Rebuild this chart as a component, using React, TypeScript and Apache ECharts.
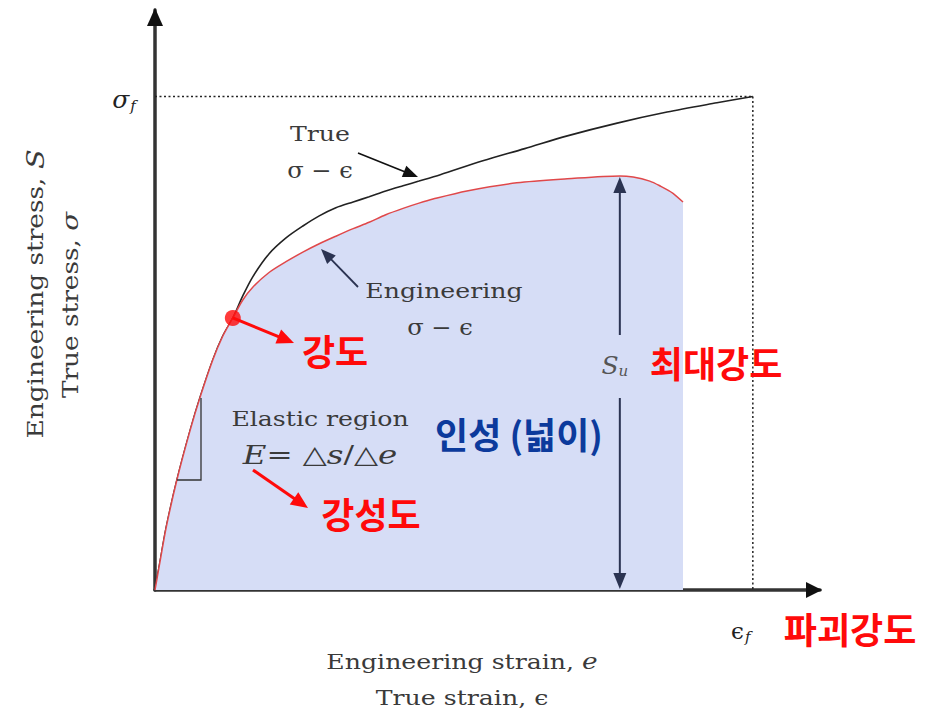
import React, { useEffect, useRef } from "react";
import * as echarts from "echarts";

// Normalised strain / stress scale of the schematic
const strainMax = 1.0;
const stressMax = 1.0;

// True stress-strain curve (sigma vs epsilon)
const trueStrain = [0, 0.008, 0.017, 0.033, 0.053, 0.068, 0.087, 0.102, 0.117, 0.132, 0.147, 0.171, 0.197, 0.223, 0.247, 0.272, 0.298, 0.322, 0.347, 0.373, 0.397, 0.429, 0.493, 0.556, 0.62, 0.695, 0.77, 0.845, 0.899];
const trueStress = [0, 0.052, 0.109, 0.19, 0.276, 0.333, 0.397, 0.438, 0.469, 0.507, 0.54, 0.579, 0.607, 0.628, 0.645, 0.659, 0.669, 0.678, 0.688, 0.697, 0.705, 0.716, 0.74, 0.761, 0.783, 0.805, 0.824, 0.84, 0.851];

// Engineering stress-strain curve (S vs e)
const engStrain = [0, 0.008, 0.017, 0.033, 0.053, 0.068, 0.087, 0.102, 0.117, 0.132, 0.147, 0.171, 0.197, 0.223, 0.247, 0.272, 0.298, 0.322, 0.347, 0.373, 0.397, 0.418, 0.469, 0.544, 0.62, 0.699, 0.719, 0.744, 0.759, 0.779, 0.794];
const engStress = [0, 0.052, 0.109, 0.19, 0.276, 0.333, 0.397, 0.438, 0.469, 0.5, 0.522, 0.547, 0.566, 0.583, 0.597, 0.61, 0.623, 0.634, 0.647, 0.658, 0.667, 0.674, 0.688, 0.702, 0.709, 0.714, 0.712, 0.705, 0.697, 0.684, 0.669];

// Key points: yield, ultimate strength and fracture
const yieldPoint = [0.117, 0.469];
const ultimatePoint = [0.699, 0.714];
const fracturePoint = [0.899, 0.851];

const SERIF = "'DejaVu Serif', 'Liberation Serif', serif";
const KR = "'Noto Sans CJK KR', 'Noto Sans', sans-serif";
const RED = "#ff0a0a";
const NAVY = "#2b3352";
const INK = "#3a3a3a";
const WIDE = 1.2;

function arrow(x1: number, y1: number, x2: number, y2: number, color: string, width: number, headLen: number, headW: number) {
  const dx = x2 - x1;
  const dy = y2 - y1;
  const len = Math.sqrt(dx * dx + dy * dy);
  const ux = dx / len;
  const uy = dy / len;
  const bx = x2 - ux * headLen;
  const by = y2 - uy * headLen;
  const px = -uy * (headW / 2);
  const py = ux * (headW / 2);
  return [
    {
      type: "line",
      silent: true,
      shape: { x1, y1, x2: x2 - ux * headLen * 0.6, y2: y2 - uy * headLen * 0.6 },
      style: { stroke: color, lineWidth: width },
      z: 20,
    },
    {
      type: "polygon",
      silent: true,
      shape: { points: [[x2, y2], [bx + px, by + py], [bx - px, by - py]] },
      style: { fill: color },
      z: 21,
    },
  ];
}

function text(x: number, y: number, str: string, font: any, extra: any = {}) {
  return {
    type: "text",
    x,
    y,
    z: 30,
    silent: true,
    ...extra,
    style: {
      text: str,
      align: "center",
      verticalAlign: "middle",
      ...font,
    },
  };
}

export default function App() {
  const ref = useRef<HTMLDivElement>(null);

  useEffect(() => {
    if (!ref.current) return;
    const chart = echarts.init(ref.current, null, { renderer: "svg" });

    const trueData = trueStrain.map((x, i) => [x, trueStress[i]]);
    const engData = engStrain.map((x, i) => [x, engStress[i]]);

    chart.setOption({
      animation: false,
      backgroundColor: "#ffffff",
      grid: { left: 155, right: 106, top: 10, bottom: 120 },
      xAxis: {
        type: "value",
        min: 0,
        max: strainMax,
        axisLine: { show: true, lineStyle: { color: "#333", width: 3.5 } },
        axisTick: { show: false },
        axisLabel: { show: false },
        splitLine: { show: false },
      },
      yAxis: {
        type: "value",
        min: 0,
        max: stressMax,
        axisLine: { show: true, lineStyle: { color: "#333", width: 3.5 } },
        axisTick: { show: false },
        axisLabel: { show: false },
        splitLine: { show: false },
      },
      series: [
        {
          type: "line",
          data: trueData,
          smooth: 0.3,
          showSymbol: false,
          lineStyle: { color: "#222", width: 1.6 },
          z: 2,
        },
        {
          type: "line",
          data: engData,
          smooth: 0.3,
          showSymbol: false,
          lineStyle: { color: "#e0484a", width: 1.5 },
          areaStyle: { color: "#d6ddf6", opacity: 1 },
          z: 3,
        },
        {
          type: "scatter",
          data: [yieldPoint],
          symbolSize: 16,
          itemStyle: { color: RED },
          z: 10,
        },
      ],
    });

    const P = (pt: number[]) => chart.convertToPixel({ gridIndex: 0 }, pt) as number[];
    const o = P([0, 0]);
    const xEnd = P([strainMax, 0]);
    const yEnd = P([0, stressMax]);
    const fr = P(fracturePoint);
    const yp = P(yieldPoint);
    const ul = P(ultimatePoint);

    const g: any[] = [];

    // axis arrow heads
    g.push({ type: "polygon", silent: true, z: 25, shape: { points: [[xEnd[0] + 2, o[1]], [xEnd[0] - 14, o[1] - 8], [xEnd[0] - 14, o[1] + 8]] }, style: { fill: "#111" } });
    g.push({ type: "polygon", silent: true, z: 25, shape: { points: [[o[0], yEnd[1] - 2], [o[0] - 8, yEnd[1] + 16], [o[0] + 8, yEnd[1] + 16]] }, style: { fill: "#111" } });

    // dotted guides to the fracture point
    g.push({ type: "line", silent: true, z: 5, shape: { x1: o[0], y1: fr[1], x2: fr[0], y2: fr[1] }, style: { stroke: "#222", lineWidth: 1.5, lineDash: [2, 2.5] } });
    g.push({ type: "line", silent: true, z: 5, shape: { x1: fr[0], y1: fr[1], x2: fr[0], y2: o[1] }, style: { stroke: "#222", lineWidth: 1.5, lineDash: [2, 2.5] } });

    // ultimate strength double arrow with gap for the label
    const suX = ul[0];
    const suMid = 365;
    g.push(...arrow(suX, suMid - 30, suX, ul[1] + 1, NAVY, 2, 16, 13));
    g.push(...arrow(suX, suMid + 33, suX, o[1] - 1, NAVY, 2, 16, 13));

    // elastic slope triangle
    g.push({ type: "polyline", silent: true, z: 6, shape: { points: [[201, 398], [201, 480], [177, 480]] }, style: { stroke: "#333", lineWidth: 1.3, fill: null } });

    // pointers
    g.push(...arrow(358, 153, 418, 177, "#111", 1.6, 15, 12));
    g.push(...arrow(358, 287, 321, 249, NAVY, 1.8, 15, 12));
    g.push(...arrow(yp[0], yp[1], 294, 343, RED, 3, 17, 15));
    g.push(...arrow(253, 470, 308, 508, RED, 3, 17, 15));

    // serif annotations
    const serif = { fontFamily: SERIF, fontSize: 21, fill: INK };
    const wide = { scaleX: WIDE };
    g.push(text(o[0] - 31, fr[1] + 3, "{s|σ}{sub|f}", {
      fontFamily: SERIF,
      fill: "#222",
      rich: {
        s: { fontFamily: SERIF, fontSize: 25, fontStyle: "italic", fill: "#222", verticalAlign: "middle" },
        sub: { fontFamily: SERIF, fontSize: 15, fontStyle: "italic", fill: "#222", padding: [14, 0, 0, 1] },
      },
    }));
    g.push(text(320, 133, "True", serif, wide));
    g.push(text(320, 170, "σ − ϵ", { ...serif, fontSize: 22 }, { scaleX: 1.1 }));
    g.push(text(444, 290, "Engineering", serif, wide));
    g.push(text(440, 327, "σ − ϵ", { ...serif, fontSize: 22 }, { scaleX: 1.1 }));
    g.push(text(320, 418, "Elastic region", serif, wide));
    g.push(text(320, 455, "{i|E}= △{i|s}/△{i|e}", {
      fontFamily: SERIF,
      fontSize: 25,
      fill: INK,
      rich: { i: { fontFamily: SERIF, fontSize: 26, fontStyle: "italic", fill: INK } },
    }, { scaleX: 1.25 }));
    g.push(text(suX - 5, suMid, "{s|S}{sub|u}", {
      fontFamily: SERIF,
      fill: "#555",
      rich: {
        s: { fontFamily: SERIF, fontSize: 25, fontStyle: "italic", fill: "#555" },
        sub: { fontFamily: SERIF, fontSize: 15, fontStyle: "italic", fill: "#555", padding: [12, 0, 0, 0] },
      },
    }));
    g.push(text(fr[0] - 12, 631, "{s|ϵ}{sub|f}", {
      fontFamily: SERIF,
      fill: "#222",
      rich: {
        s: { fontFamily: SERIF, fontSize: 23, fill: "#222" },
        sub: { fontFamily: SERIF, fontSize: 15, fontStyle: "italic", fill: "#222", padding: [12, 0, 0, 1] },
      },
    }));
    g.push(text(462, 661, "Engineering strain, {i|e}", {
      ...serif,
      rich: { i: { fontFamily: SERIF, fontSize: 22, fontStyle: "italic", fill: INK } },
    }, wide));
    g.push(text(462, 697, "True strain, ϵ", serif, wide));
    g.push(text(35, 294, "Engineering stress, {i|S}", {
      fontFamily: SERIF,
      fontSize: 22,
      fill: INK,
      rich: { i: { fontFamily: SERIF, fontSize: 24, fontStyle: "italic", fill: INK } },
    }, { rotation: Math.PI / 2, scaleX: WIDE }));
    g.push(text(70, 305, "True stress, {i|σ}", {
      fontFamily: SERIF,
      fontSize: 22,
      fill: INK,
      rich: { i: { fontFamily: SERIF, fontSize: 23, fontStyle: "italic", fill: INK } },
    }, { rotation: Math.PI / 2, scaleX: WIDE }));

    // Korean labels
    const kr = { fontFamily: KR, fontSize: 36, fontWeight: "bold", fill: RED };
    g.push(text(335, 350, "강도", kr));
    g.push(text(371, 513, "강성도", kr));
    g.push(text(716, 362, "최대강도", kr));
    g.push(text(850, 628, "파괴강도", kr));
    g.push(text(519, 433, "인성 (넓이)", { ...kr, fill: "#0c3a9c" }));

    chart.setOption({ graphic: g });

    return () => chart.dispose();
  }, []);

  return (
    <div
      ref={ref}
      style={{ position: "fixed", left: 0, top: 0, width: 926, height: 710, background: "#fff" }}
    />
  );
}
